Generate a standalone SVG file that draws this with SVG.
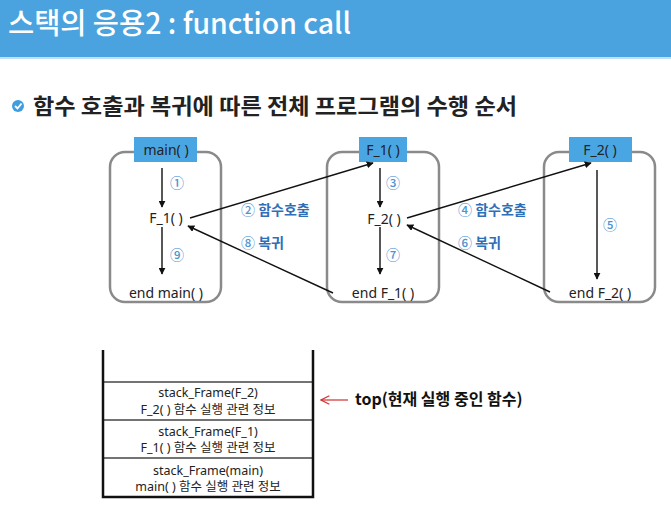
<svg xmlns="http://www.w3.org/2000/svg" width="671" height="512" viewBox="0 0 671 512">
  <defs>
    <marker id="arrow" viewBox="0 0 10 10" refX="9" refY="5" markerWidth="7" markerHeight="7" markerUnits="userSpaceOnUse" orient="auto">
      <path d="M0,0 L10,5 L0,10 Z" fill="#111"/>
    </marker>
    <marker id="redArrow" viewBox="0 0 12 12" refX="11" refY="6" markerWidth="10" markerHeight="10" markerUnits="userSpaceOnUse" orient="auto">
      <path d="M1,1 L11,6 L1,11" fill="none" stroke="#d03030" stroke-width="1.4"/>
    </marker>
    <style>
      .frame { fill: #fff; stroke: #8a8a8a; stroke-width: 2.5; }
      .tag { fill: #4aa6e2; }
      .lbl { font-family: "Noto Sans", "Noto Sans CJK KR", sans-serif; font-size: 14px; fill: #222; text-anchor: middle; }
      .num { font-family: "Noto Sans CJK KR", sans-serif; font-size: 14px; font-weight: 500; fill: #4f95d2; text-anchor: middle; }
      .note { font-family: "Noto Sans CJK KR", sans-serif; font-size: 14px; font-weight: bold; fill: #2f6fb8; }
      .conn { stroke: #111; stroke-width: 1.4; fill: none; marker-end: url(#arrow); }
      .stk { font-family: "Noto Sans", "Noto Sans CJK KR", sans-serif; font-size: 12.5px; fill: #222; text-anchor: middle; }
    </style>
  </defs>

  <!-- title bar -->
  <rect x="0" y="0" width="671" height="57" fill="#4aa3df"/>
  <rect x="0" y="57" width="671" height="2" fill="#bfe0f5"/>
  <text x="8" y="34" font-family="Noto Sans CJK KR, sans-serif" font-size="29" font-weight="500" fill="#fff" textLength="343" lengthAdjust="spacingAndGlyphs">스택의 응용2 : function call</text>

  <!-- section heading -->
  <circle cx="18" cy="106" r="6" fill="#3f9ee0"/>
  <path d="M15,106 L17.5,108.5 L21.5,103.5" fill="none" stroke="#fff" stroke-width="1.8"/>
  <text x="33" y="114" font-family="Noto Sans CJK KR, sans-serif" font-size="22" font-weight="bold" fill="#222" textLength="484" lengthAdjust="spacingAndGlyphs">함수 호출과 복귀에 따른 전체 프로그램의 수행 순서</text>

  <!-- main() -->
  <g id="main">
    <rect class="frame" x="110" y="152" width="111" height="150" rx="15"/>
    <rect class="tag" x="134" y="137" width="63" height="25"/>
    <text class="lbl" x="166" y="155">main( )</text>
    <text class="lbl" x="166" y="223">F_1( )</text>
    <text class="lbl" x="166" y="298">end main( )</text>
    <text class="num" x="177" y="188">①</text>
    <text class="num" x="177" y="260">⑨</text>
  </g>

  <!-- F_1() -->
  <g id="f1">
    <rect class="frame" x="327" y="152" width="112" height="150" rx="15"/>
    <rect class="tag" x="359" y="137" width="48" height="25"/>
    <text class="lbl" x="383" y="155">F_1( )</text>
    <text class="lbl" x="384" y="224">F_2( )</text>
    <text class="lbl" x="383" y="298">end F_1( )</text>
    <text class="num" x="393" y="188">③</text>
    <text class="num" x="393" y="260">⑦</text>
  </g>

  <!-- F_2() -->
  <g id="f2">
    <rect class="frame" x="544" y="152" width="111" height="150" rx="15"/>
    <rect class="tag" x="569" y="137" width="63" height="25"/>
    <text class="lbl" x="600" y="155">F_2( )</text>
    <text class="lbl" x="600" y="298">end F_2( )</text>
    <text class="num" x="610" y="230">⑤</text>
  </g>

  <!-- flow of control -->
  <g id="connectors">
    <line class="conn" x1="162" y1="168" x2="162" y2="207"/>
    <line class="conn" x1="162" y1="227" x2="162" y2="274"/>
    <line class="conn" x1="380" y1="168" x2="380" y2="207"/>
    <line class="conn" x1="380" y1="227" x2="380" y2="274"/>
    <line class="conn" x1="597" y1="170" x2="597" y2="279"/>
    <line class="conn" x1="190" y1="218" x2="373" y2="163"/>
    <line class="conn" x1="333" y1="293" x2="188" y2="226"/>
    <line class="conn" x1="407" y1="218" x2="591" y2="163"/>
    <line class="conn" x1="550" y1="292" x2="407" y2="225"/>
    <text class="note" x="241" y="215"><tspan fill="#4f95d2" font-weight="500">②</tspan> 함수호출</text>
    <text class="note" x="241" y="248"><tspan fill="#4f95d2" font-weight="500">⑧</tspan> 복귀</text>
    <text class="note" x="458" y="215"><tspan fill="#4f95d2" font-weight="500">④</tspan> 함수호출</text>
    <text class="note" x="458" y="248"><tspan fill="#4f95d2" font-weight="500">⑥</tspan> 복귀</text>
  </g>

  <!-- call stack -->
  <g id="stack">
    <line x1="103" y1="382" x2="313" y2="382" stroke="#444" stroke-width="1.5"/>
    <line x1="103" y1="420" x2="313" y2="420" stroke="#444" stroke-width="1.5"/>
    <line x1="103" y1="458" x2="313" y2="458" stroke="#444" stroke-width="1.5"/>
    <path d="M103,350 L103,497 L313,497 L313,350" fill="none" stroke="#111" stroke-width="2.5"/>
    <text class="stk" x="208" y="397">stack_Frame(F_2)</text>
    <text class="stk" x="208" y="414">F_2( ) 함수 실행 관련 정보</text>
    <text class="stk" x="208" y="436">stack_Frame(F_1)</text>
    <text class="stk" x="208" y="452">F_1( ) 함수 실행 관련 정보</text>
    <text class="stk" x="208" y="475">stack_Frame(main)</text>
    <text class="stk" x="208" y="491">main( ) 함수 실행 관련 정보</text>
  </g>

  <!-- top pointer -->
  <g id="top">
    <line x1="348" y1="400" x2="321" y2="400" stroke="#d03030" stroke-width="1.2" marker-end="url(#redArrow)"/>
    <text x="355" y="405" font-family="Noto Sans CJK KR, sans-serif" font-size="16" font-weight="bold" fill="#111">top(현재 실행 중인 함수)</text>
  </g>
</svg>
